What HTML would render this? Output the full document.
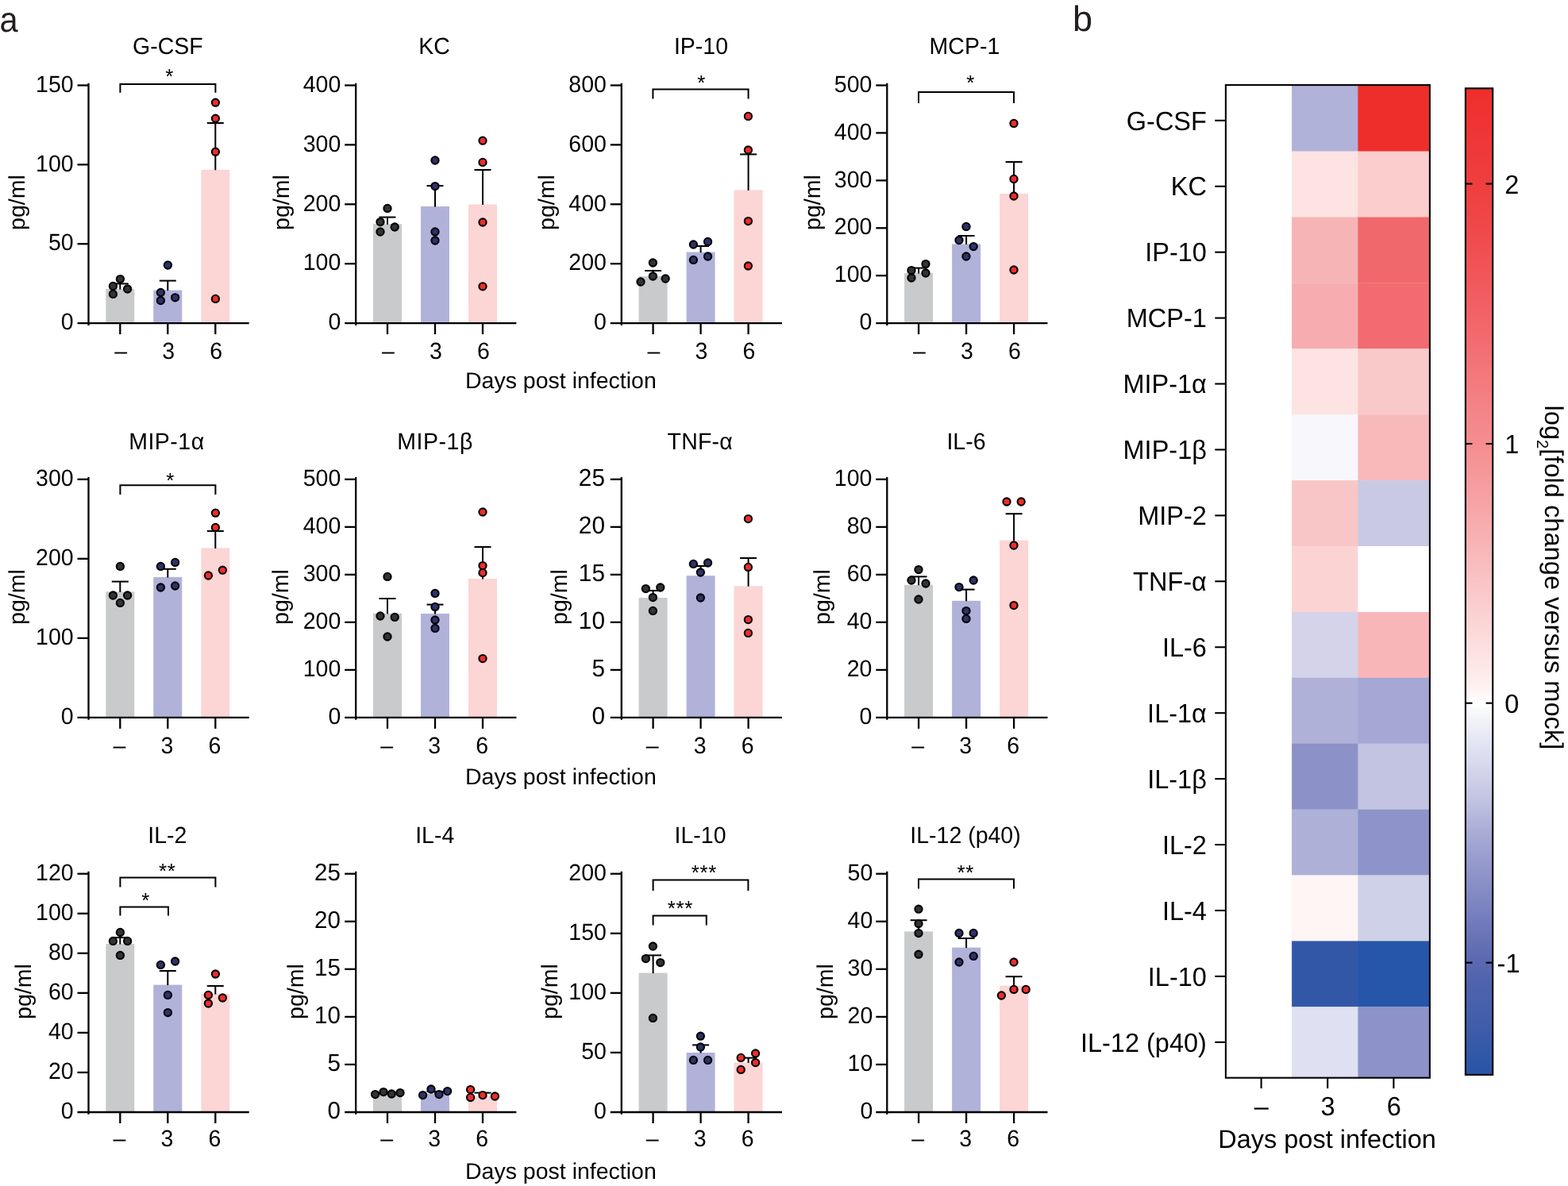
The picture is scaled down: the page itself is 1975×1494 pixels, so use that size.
<!DOCTYPE html>
<html lang="en">
<head>
<meta charset="utf-8">
<title>Cytokine levels after infection</title>
<style>
html,body{margin:0;padding:0;background:#fff;}
body{width:1975px;height:1494px;overflow:hidden;}
svg{display:block;font-family:"Liberation Sans", Arial, Helvetica, sans-serif;}
svg text{font-family:"Liberation Sans", Arial, Helvetica, sans-serif;text-rendering:geometricPrecision;}
</style>
</head>
<body>
<svg width="1975" height="1494" viewBox="0 0 1975 1494">
<rect x="0" y="0" width="1975" height="1494" fill="#fff"/>
<g>
<rect x="133.3" y="364" width="36" height="43.1" fill="#C9CACC"/>
<rect x="193.3" y="365.6" width="36" height="41.5" fill="#B1B2DA"/>
<rect x="253.3" y="213.8" width="36" height="193.3" fill="#FCD5D5"/>
<line x1="111.5" y1="104.65" x2="111.5" y2="409.95" stroke="#000" stroke-width="2.3"/>
<line x1="97.5" y1="407.1" x2="313.7" y2="407.1" stroke="#000" stroke-width="2.3"/>
<text transform="translate(92.6 415) scale(1 1.03)" font-size="28.5" text-anchor="end" fill="#000">0</text>
<line x1="97.5" y1="307.23" x2="111.5" y2="307.23" stroke="#000" stroke-width="2.3"/>
<text transform="translate(92.6 315) scale(1 1.03)" font-size="28.5" text-anchor="end" fill="#000">50</text>
<line x1="97.5" y1="207.37" x2="111.5" y2="207.37" stroke="#000" stroke-width="2.3"/>
<text transform="translate(92.6 216) scale(1 1.03)" font-size="28.5" text-anchor="end" fill="#000">100</text>
<line x1="97.5" y1="107.5" x2="111.5" y2="107.5" stroke="#000" stroke-width="2.3"/>
<text transform="translate(92.6 116) scale(1 1.03)" font-size="28.5" text-anchor="end" fill="#000">150</text>
<line x1="151.3" y1="407.1" x2="151.3" y2="421.1" stroke="#000" stroke-width="2.3"/>
<text transform="translate(152.2 452) scale(1 1.03)" font-size="28.5" text-anchor="middle" fill="#000">–</text>
<line x1="211.3" y1="407.1" x2="211.3" y2="421.1" stroke="#000" stroke-width="2.3"/>
<text transform="translate(212.2 452) scale(1 1.03)" font-size="28.5" text-anchor="middle" fill="#000">3</text>
<line x1="271.3" y1="407.1" x2="271.3" y2="421.1" stroke="#000" stroke-width="2.3"/>
<text transform="translate(272.2 452) scale(1 1.03)" font-size="28.5" text-anchor="middle" fill="#000">6</text>
<line x1="151.3" y1="357.4" x2="151.3" y2="364.5" stroke="#000" stroke-width="2"/>
<line x1="140.8" y1="357.4" x2="161.8" y2="357.4" stroke="#000" stroke-width="2"/>
<line x1="211.3" y1="353.6" x2="211.3" y2="366.1" stroke="#000" stroke-width="2"/>
<line x1="200.8" y1="353.6" x2="221.8" y2="353.6" stroke="#000" stroke-width="2"/>
<line x1="271.3" y1="155" x2="271.3" y2="214.3" stroke="#000" stroke-width="2"/>
<line x1="260.8" y1="155" x2="281.8" y2="155" stroke="#000" stroke-width="2"/>
<circle cx="151.4" cy="351.6" r="4.6" fill="#333333" stroke="#000" stroke-width="2.1"/>
<circle cx="142.4" cy="360.4" r="4.6" fill="#333333" stroke="#000" stroke-width="2.1"/>
<circle cx="160.6" cy="364" r="4.6" fill="#333333" stroke="#000" stroke-width="2.1"/>
<circle cx="142.4" cy="370.4" r="4.6" fill="#333333" stroke="#000" stroke-width="2.1"/>
<circle cx="211.4" cy="334" r="4.6" fill="#2F3169" stroke="#000" stroke-width="2.1"/>
<circle cx="202.4" cy="368.4" r="4.6" fill="#2F3169" stroke="#000" stroke-width="2.1"/>
<circle cx="220.6" cy="374.8" r="4.6" fill="#2F3169" stroke="#000" stroke-width="2.1"/>
<circle cx="202.4" cy="378.6" r="4.6" fill="#2F3169" stroke="#000" stroke-width="2.1"/>
<circle cx="271.4" cy="129.2" r="4.6" fill="#EE2D2A" stroke="#000" stroke-width="2.1"/>
<circle cx="271.4" cy="149.2" r="4.6" fill="#EE2D2A" stroke="#000" stroke-width="2.1"/>
<circle cx="271.4" cy="191.2" r="4.6" fill="#EE2D2A" stroke="#000" stroke-width="2.1"/>
<circle cx="271.4" cy="376.4" r="4.6" fill="#EE2D2A" stroke="#000" stroke-width="2.1"/>
<path d="M151.4 116.7V105.9H271.4V116.7" fill="none" stroke="#000" stroke-width="2"/>
<text transform="translate(213.4 105)" font-size="26" text-anchor="middle" fill="#000">*</text>
<text transform="translate(211.4 68) scale(1 1.03)" font-size="28.5" text-anchor="middle" fill="#000">G-CSF</text>
<text transform="translate(31.4 255.1) rotate(-90)" font-size="28.5" text-anchor="middle" fill="#000">pg/ml</text>
</g>
<g>
<rect x="470" y="282.2" width="36" height="124.9" fill="#C9CACC"/>
<rect x="530" y="260" width="36" height="147.1" fill="#B1B2DA"/>
<rect x="590" y="257.6" width="36" height="149.5" fill="#FCD5D5"/>
<line x1="448.2" y1="104.65" x2="448.2" y2="409.95" stroke="#000" stroke-width="2.3"/>
<line x1="434.2" y1="407.1" x2="650.4" y2="407.1" stroke="#000" stroke-width="2.3"/>
<text transform="translate(429.3 415) scale(1 1.03)" font-size="28.5" text-anchor="end" fill="#000">0</text>
<line x1="434.2" y1="332.2" x2="448.2" y2="332.2" stroke="#000" stroke-width="2.3"/>
<text transform="translate(429.3 340) scale(1 1.03)" font-size="28.5" text-anchor="end" fill="#000">100</text>
<line x1="434.2" y1="257.3" x2="448.2" y2="257.3" stroke="#000" stroke-width="2.3"/>
<text transform="translate(429.3 266) scale(1 1.03)" font-size="28.5" text-anchor="end" fill="#000">200</text>
<line x1="434.2" y1="182.4" x2="448.2" y2="182.4" stroke="#000" stroke-width="2.3"/>
<text transform="translate(429.3 191) scale(1 1.03)" font-size="28.5" text-anchor="end" fill="#000">300</text>
<line x1="434.2" y1="107.5" x2="448.2" y2="107.5" stroke="#000" stroke-width="2.3"/>
<text transform="translate(429.3 116) scale(1 1.03)" font-size="28.5" text-anchor="end" fill="#000">400</text>
<line x1="488" y1="407.1" x2="488" y2="421.1" stroke="#000" stroke-width="2.3"/>
<text transform="translate(488.9 452) scale(1 1.03)" font-size="28.5" text-anchor="middle" fill="#000">–</text>
<line x1="548" y1="407.1" x2="548" y2="421.1" stroke="#000" stroke-width="2.3"/>
<text transform="translate(548.9 452) scale(1 1.03)" font-size="28.5" text-anchor="middle" fill="#000">3</text>
<line x1="608" y1="407.1" x2="608" y2="421.1" stroke="#000" stroke-width="2.3"/>
<text transform="translate(608.9 452) scale(1 1.03)" font-size="28.5" text-anchor="middle" fill="#000">6</text>
<line x1="488" y1="273.6" x2="488" y2="282.7" stroke="#000" stroke-width="2"/>
<line x1="477.5" y1="273.6" x2="498.5" y2="273.6" stroke="#000" stroke-width="2"/>
<line x1="548" y1="234" x2="548" y2="260.5" stroke="#000" stroke-width="2"/>
<line x1="537.5" y1="234" x2="558.5" y2="234" stroke="#000" stroke-width="2"/>
<line x1="608" y1="214" x2="608" y2="258.1" stroke="#000" stroke-width="2"/>
<line x1="597.5" y1="214" x2="618.5" y2="214" stroke="#000" stroke-width="2"/>
<circle cx="488" cy="262.4" r="4.6" fill="#333333" stroke="#000" stroke-width="2.1"/>
<circle cx="479" cy="279.6" r="4.6" fill="#333333" stroke="#000" stroke-width="2.1"/>
<circle cx="497.2" cy="286" r="4.6" fill="#333333" stroke="#000" stroke-width="2.1"/>
<circle cx="479" cy="292" r="4.6" fill="#333333" stroke="#000" stroke-width="2.1"/>
<circle cx="548" cy="202" r="4.6" fill="#2F3169" stroke="#000" stroke-width="2.1"/>
<circle cx="548" cy="234.6" r="4.6" fill="#2F3169" stroke="#000" stroke-width="2.1"/>
<circle cx="548" cy="292" r="4.6" fill="#2F3169" stroke="#000" stroke-width="2.1"/>
<circle cx="548" cy="303" r="4.6" fill="#2F3169" stroke="#000" stroke-width="2.1"/>
<circle cx="608" cy="177.2" r="4.6" fill="#EE2D2A" stroke="#000" stroke-width="2.1"/>
<circle cx="608" cy="204.4" r="4.6" fill="#EE2D2A" stroke="#000" stroke-width="2.1"/>
<circle cx="608" cy="280" r="4.6" fill="#EE2D2A" stroke="#000" stroke-width="2.1"/>
<circle cx="608" cy="360.8" r="4.6" fill="#EE2D2A" stroke="#000" stroke-width="2.1"/>
<text transform="translate(547 68) scale(1 1.03)" font-size="28.5" text-anchor="middle" fill="#000">KC</text>
<text transform="translate(364 255.1) rotate(-90)" font-size="28.5" text-anchor="middle" fill="#000">pg/ml</text>
</g>
<g>
<rect x="804.6" y="348" width="36" height="59.1" fill="#C9CACC"/>
<rect x="864.6" y="317.6" width="36" height="89.5" fill="#B1B2DA"/>
<rect x="924.6" y="239.4" width="36" height="167.7" fill="#FCD5D5"/>
<line x1="782.8" y1="104.65" x2="782.8" y2="409.95" stroke="#000" stroke-width="2.3"/>
<line x1="768.8" y1="407.1" x2="985" y2="407.1" stroke="#000" stroke-width="2.3"/>
<text transform="translate(763.9 415) scale(1 1.03)" font-size="28.5" text-anchor="end" fill="#000">0</text>
<line x1="768.8" y1="332.2" x2="782.8" y2="332.2" stroke="#000" stroke-width="2.3"/>
<text transform="translate(763.9 340) scale(1 1.03)" font-size="28.5" text-anchor="end" fill="#000">200</text>
<line x1="768.8" y1="257.3" x2="782.8" y2="257.3" stroke="#000" stroke-width="2.3"/>
<text transform="translate(763.9 266) scale(1 1.03)" font-size="28.5" text-anchor="end" fill="#000">400</text>
<line x1="768.8" y1="182.4" x2="782.8" y2="182.4" stroke="#000" stroke-width="2.3"/>
<text transform="translate(763.9 191) scale(1 1.03)" font-size="28.5" text-anchor="end" fill="#000">600</text>
<line x1="768.8" y1="107.5" x2="782.8" y2="107.5" stroke="#000" stroke-width="2.3"/>
<text transform="translate(763.9 116) scale(1 1.03)" font-size="28.5" text-anchor="end" fill="#000">800</text>
<line x1="822.6" y1="407.1" x2="822.6" y2="421.1" stroke="#000" stroke-width="2.3"/>
<text transform="translate(823.5 452) scale(1 1.03)" font-size="28.5" text-anchor="middle" fill="#000">–</text>
<line x1="882.6" y1="407.1" x2="882.6" y2="421.1" stroke="#000" stroke-width="2.3"/>
<text transform="translate(883.5 452) scale(1 1.03)" font-size="28.5" text-anchor="middle" fill="#000">3</text>
<line x1="942.6" y1="407.1" x2="942.6" y2="421.1" stroke="#000" stroke-width="2.3"/>
<text transform="translate(943.5 452) scale(1 1.03)" font-size="28.5" text-anchor="middle" fill="#000">6</text>
<line x1="822.6" y1="341" x2="822.6" y2="348.5" stroke="#000" stroke-width="2"/>
<line x1="812.1" y1="341" x2="833.1" y2="341" stroke="#000" stroke-width="2"/>
<line x1="882.6" y1="310" x2="882.6" y2="318.1" stroke="#000" stroke-width="2"/>
<line x1="872.1" y1="310" x2="893.1" y2="310" stroke="#000" stroke-width="2"/>
<line x1="942.6" y1="194.4" x2="942.6" y2="239.9" stroke="#000" stroke-width="2"/>
<line x1="932.1" y1="194.4" x2="953.1" y2="194.4" stroke="#000" stroke-width="2"/>
<circle cx="822.4" cy="331" r="4.6" fill="#333333" stroke="#000" stroke-width="2.1"/>
<circle cx="822.4" cy="348" r="4.6" fill="#333333" stroke="#000" stroke-width="2.1"/>
<circle cx="807" cy="355" r="4.6" fill="#333333" stroke="#000" stroke-width="2.1"/>
<circle cx="838.2" cy="351" r="4.6" fill="#333333" stroke="#000" stroke-width="2.1"/>
<circle cx="873.4" cy="308" r="4.6" fill="#2F3169" stroke="#000" stroke-width="2.1"/>
<circle cx="891.6" cy="304.4" r="4.6" fill="#2F3169" stroke="#000" stroke-width="2.1"/>
<circle cx="891.6" cy="323" r="4.6" fill="#2F3169" stroke="#000" stroke-width="2.1"/>
<circle cx="873.4" cy="327.4" r="4.6" fill="#2F3169" stroke="#000" stroke-width="2.1"/>
<circle cx="942.4" cy="146.4" r="4.6" fill="#EE2D2A" stroke="#000" stroke-width="2.1"/>
<circle cx="942.4" cy="189" r="4.6" fill="#EE2D2A" stroke="#000" stroke-width="2.1"/>
<circle cx="942.4" cy="278.6" r="4.6" fill="#EE2D2A" stroke="#000" stroke-width="2.1"/>
<circle cx="942.4" cy="335" r="4.6" fill="#EE2D2A" stroke="#000" stroke-width="2.1"/>
<path d="M822.4 124.4V112.6H942.6V124.4" fill="none" stroke="#000" stroke-width="2"/>
<text transform="translate(883.4 113)" font-size="26" text-anchor="middle" fill="#000">*</text>
<text transform="translate(883 68) scale(1 1.03)" font-size="28.5" text-anchor="middle" fill="#000">IP-10</text>
<text transform="translate(698.4 255.1) rotate(-90)" font-size="28.5" text-anchor="middle" fill="#000">pg/ml</text>
</g>
<g>
<rect x="1139.1" y="344" width="36" height="63.1" fill="#C9CACC"/>
<rect x="1199.1" y="307.4" width="36" height="99.7" fill="#B1B2DA"/>
<rect x="1259.1" y="244" width="36" height="163.1" fill="#FCD5D5"/>
<line x1="1117.3" y1="104.65" x2="1117.3" y2="409.95" stroke="#000" stroke-width="2.3"/>
<line x1="1103.3" y1="407.1" x2="1319.5" y2="407.1" stroke="#000" stroke-width="2.3"/>
<text transform="translate(1098.4 415) scale(1 1.03)" font-size="28.5" text-anchor="end" fill="#000">0</text>
<line x1="1103.3" y1="347.18" x2="1117.3" y2="347.18" stroke="#000" stroke-width="2.3"/>
<text transform="translate(1098.4 355) scale(1 1.03)" font-size="28.5" text-anchor="end" fill="#000">100</text>
<line x1="1103.3" y1="287.26" x2="1117.3" y2="287.26" stroke="#000" stroke-width="2.3"/>
<text transform="translate(1098.4 295) scale(1 1.03)" font-size="28.5" text-anchor="end" fill="#000">200</text>
<line x1="1103.3" y1="227.34" x2="1117.3" y2="227.34" stroke="#000" stroke-width="2.3"/>
<text transform="translate(1098.4 236) scale(1 1.03)" font-size="28.5" text-anchor="end" fill="#000">300</text>
<line x1="1103.3" y1="167.42" x2="1117.3" y2="167.42" stroke="#000" stroke-width="2.3"/>
<text transform="translate(1098.4 176) scale(1 1.03)" font-size="28.5" text-anchor="end" fill="#000">400</text>
<line x1="1103.3" y1="107.5" x2="1117.3" y2="107.5" stroke="#000" stroke-width="2.3"/>
<text transform="translate(1098.4 116) scale(1 1.03)" font-size="28.5" text-anchor="end" fill="#000">500</text>
<line x1="1157.1" y1="407.1" x2="1157.1" y2="421.1" stroke="#000" stroke-width="2.3"/>
<text transform="translate(1158 452) scale(1 1.03)" font-size="28.5" text-anchor="middle" fill="#000">–</text>
<line x1="1217.1" y1="407.1" x2="1217.1" y2="421.1" stroke="#000" stroke-width="2.3"/>
<text transform="translate(1218 452) scale(1 1.03)" font-size="28.5" text-anchor="middle" fill="#000">3</text>
<line x1="1277.1" y1="407.1" x2="1277.1" y2="421.1" stroke="#000" stroke-width="2.3"/>
<text transform="translate(1278 452) scale(1 1.03)" font-size="28.5" text-anchor="middle" fill="#000">6</text>
<line x1="1157.1" y1="337.6" x2="1157.1" y2="344.5" stroke="#000" stroke-width="2"/>
<line x1="1146.6" y1="337.6" x2="1167.6" y2="337.6" stroke="#000" stroke-width="2"/>
<line x1="1217.1" y1="297" x2="1217.1" y2="307.9" stroke="#000" stroke-width="2"/>
<line x1="1206.6" y1="297" x2="1227.6" y2="297" stroke="#000" stroke-width="2"/>
<line x1="1277.1" y1="204" x2="1277.1" y2="244.5" stroke="#000" stroke-width="2"/>
<line x1="1266.6" y1="204" x2="1287.6" y2="204" stroke="#000" stroke-width="2"/>
<circle cx="1166" cy="332.6" r="4.6" fill="#333333" stroke="#000" stroke-width="2.1"/>
<circle cx="1148" cy="340.6" r="4.6" fill="#333333" stroke="#000" stroke-width="2.1"/>
<circle cx="1166" cy="344" r="4.6" fill="#333333" stroke="#000" stroke-width="2.1"/>
<circle cx="1148" cy="350" r="4.6" fill="#333333" stroke="#000" stroke-width="2.1"/>
<circle cx="1217" cy="285.4" r="4.6" fill="#2F3169" stroke="#000" stroke-width="2.1"/>
<circle cx="1208" cy="302.6" r="4.6" fill="#2F3169" stroke="#000" stroke-width="2.1"/>
<circle cx="1226.2" cy="310.6" r="4.6" fill="#2F3169" stroke="#000" stroke-width="2.1"/>
<circle cx="1217" cy="323" r="4.6" fill="#2F3169" stroke="#000" stroke-width="2.1"/>
<circle cx="1277" cy="155.4" r="4.6" fill="#EE2D2A" stroke="#000" stroke-width="2.1"/>
<circle cx="1277" cy="225.4" r="4.6" fill="#EE2D2A" stroke="#000" stroke-width="2.1"/>
<circle cx="1277" cy="247" r="4.6" fill="#EE2D2A" stroke="#000" stroke-width="2.1"/>
<circle cx="1277" cy="340" r="4.6" fill="#EE2D2A" stroke="#000" stroke-width="2.1"/>
<path d="M1157 130V116H1277V130" fill="none" stroke="#000" stroke-width="2"/>
<text transform="translate(1222.4 112.6)" font-size="26" text-anchor="middle" fill="#000">*</text>
<text transform="translate(1214.9 68) scale(1 1.03)" font-size="28.5" text-anchor="middle" fill="#000">MCP-1</text>
<text transform="translate(1033.4 255.1) rotate(-90)" font-size="28.5" text-anchor="middle" fill="#000">pg/ml</text>
</g>
<g>
<rect x="133.3" y="745.4" width="36" height="158.5" fill="#C9CACC"/>
<rect x="193.3" y="727" width="36" height="176.9" fill="#B1B2DA"/>
<rect x="253.3" y="690.4" width="36" height="213.5" fill="#FCD5D5"/>
<line x1="111.5" y1="600.95" x2="111.5" y2="906.75" stroke="#000" stroke-width="2.3"/>
<line x1="97.5" y1="903.9" x2="313.7" y2="903.9" stroke="#000" stroke-width="2.3"/>
<text transform="translate(92.6 912) scale(1 1.03)" font-size="28.5" text-anchor="end" fill="#000">0</text>
<line x1="97.5" y1="803.87" x2="111.5" y2="803.87" stroke="#000" stroke-width="2.3"/>
<text transform="translate(92.6 812) scale(1 1.03)" font-size="28.5" text-anchor="end" fill="#000">100</text>
<line x1="97.5" y1="703.83" x2="111.5" y2="703.83" stroke="#000" stroke-width="2.3"/>
<text transform="translate(92.6 712) scale(1 1.03)" font-size="28.5" text-anchor="end" fill="#000">200</text>
<line x1="97.5" y1="603.8" x2="111.5" y2="603.8" stroke="#000" stroke-width="2.3"/>
<text transform="translate(92.6 612) scale(1 1.03)" font-size="28.5" text-anchor="end" fill="#000">300</text>
<line x1="151.3" y1="903.9" x2="151.3" y2="917.9" stroke="#000" stroke-width="2.3"/>
<text transform="translate(150.4 949) scale(1 1.03)" font-size="28.5" text-anchor="middle" fill="#000">–</text>
<line x1="211.3" y1="903.9" x2="211.3" y2="917.9" stroke="#000" stroke-width="2.3"/>
<text transform="translate(210.4 949) scale(1 1.03)" font-size="28.5" text-anchor="middle" fill="#000">3</text>
<line x1="271.3" y1="903.9" x2="271.3" y2="917.9" stroke="#000" stroke-width="2.3"/>
<text transform="translate(270.4 949) scale(1 1.03)" font-size="28.5" text-anchor="middle" fill="#000">6</text>
<line x1="151.3" y1="732.6" x2="151.3" y2="745.9" stroke="#000" stroke-width="2"/>
<line x1="140.8" y1="732.6" x2="161.8" y2="732.6" stroke="#000" stroke-width="2"/>
<line x1="211.3" y1="716.8" x2="211.3" y2="727.5" stroke="#000" stroke-width="2"/>
<line x1="200.8" y1="716.8" x2="221.8" y2="716.8" stroke="#000" stroke-width="2"/>
<line x1="271.3" y1="669" x2="271.3" y2="690.9" stroke="#000" stroke-width="2"/>
<line x1="260.8" y1="669" x2="281.8" y2="669" stroke="#000" stroke-width="2"/>
<circle cx="151.4" cy="713.4" r="4.6" fill="#333333" stroke="#000" stroke-width="2.1"/>
<circle cx="142.4" cy="750" r="4.6" fill="#333333" stroke="#000" stroke-width="2.1"/>
<circle cx="160.6" cy="750" r="4.6" fill="#333333" stroke="#000" stroke-width="2.1"/>
<circle cx="151.4" cy="759.4" r="4.6" fill="#333333" stroke="#000" stroke-width="2.1"/>
<circle cx="202.4" cy="713.4" r="4.6" fill="#2F3169" stroke="#000" stroke-width="2.1"/>
<circle cx="220.6" cy="708.4" r="4.6" fill="#2F3169" stroke="#000" stroke-width="2.1"/>
<circle cx="202.4" cy="740" r="4.6" fill="#2F3169" stroke="#000" stroke-width="2.1"/>
<circle cx="220.6" cy="738" r="4.6" fill="#2F3169" stroke="#000" stroke-width="2.1"/>
<circle cx="271.4" cy="646.2" r="4.6" fill="#EE2D2A" stroke="#000" stroke-width="2.1"/>
<circle cx="271.4" cy="664.4" r="4.6" fill="#EE2D2A" stroke="#000" stroke-width="2.1"/>
<circle cx="262.4" cy="725" r="4.6" fill="#EE2D2A" stroke="#000" stroke-width="2.1"/>
<circle cx="280.4" cy="718.2" r="4.6" fill="#EE2D2A" stroke="#000" stroke-width="2.1"/>
<path d="M151.4 623V611.2H271.4V623" fill="none" stroke="#000" stroke-width="2"/>
<text transform="translate(214.4 614)" font-size="26" text-anchor="middle" fill="#000">*</text>
<text transform="translate(209.9 565.6) scale(1 1.03)" font-size="28.5" text-anchor="middle" fill="#000" letter-spacing="0.5">MIP-1α</text>
<text transform="translate(31.4 752.05) rotate(-90)" font-size="28.5" text-anchor="middle" fill="#000">pg/ml</text>
</g>
<g>
<rect x="470" y="772.8" width="36" height="131.1" fill="#C9CACC"/>
<rect x="530" y="773" width="36" height="130.9" fill="#B1B2DA"/>
<rect x="590" y="729" width="36" height="174.9" fill="#FCD5D5"/>
<line x1="448.2" y1="600.95" x2="448.2" y2="906.75" stroke="#000" stroke-width="2.3"/>
<line x1="434.2" y1="903.9" x2="650.4" y2="903.9" stroke="#000" stroke-width="2.3"/>
<text transform="translate(429.3 912) scale(1 1.03)" font-size="28.5" text-anchor="end" fill="#000">0</text>
<line x1="434.2" y1="843.88" x2="448.2" y2="843.88" stroke="#000" stroke-width="2.3"/>
<text transform="translate(429.3 852) scale(1 1.03)" font-size="28.5" text-anchor="end" fill="#000">100</text>
<line x1="434.2" y1="783.86" x2="448.2" y2="783.86" stroke="#000" stroke-width="2.3"/>
<text transform="translate(429.3 792) scale(1 1.03)" font-size="28.5" text-anchor="end" fill="#000">200</text>
<line x1="434.2" y1="723.84" x2="448.2" y2="723.84" stroke="#000" stroke-width="2.3"/>
<text transform="translate(429.3 732) scale(1 1.03)" font-size="28.5" text-anchor="end" fill="#000">300</text>
<line x1="434.2" y1="663.82" x2="448.2" y2="663.82" stroke="#000" stroke-width="2.3"/>
<text transform="translate(429.3 672) scale(1 1.03)" font-size="28.5" text-anchor="end" fill="#000">400</text>
<line x1="434.2" y1="603.8" x2="448.2" y2="603.8" stroke="#000" stroke-width="2.3"/>
<text transform="translate(429.3 612) scale(1 1.03)" font-size="28.5" text-anchor="end" fill="#000">500</text>
<line x1="488" y1="903.9" x2="488" y2="917.9" stroke="#000" stroke-width="2.3"/>
<text transform="translate(487.1 949) scale(1 1.03)" font-size="28.5" text-anchor="middle" fill="#000">–</text>
<line x1="548" y1="903.9" x2="548" y2="917.9" stroke="#000" stroke-width="2.3"/>
<text transform="translate(547.1 949) scale(1 1.03)" font-size="28.5" text-anchor="middle" fill="#000">3</text>
<line x1="608" y1="903.9" x2="608" y2="917.9" stroke="#000" stroke-width="2.3"/>
<text transform="translate(607.1 949) scale(1 1.03)" font-size="28.5" text-anchor="middle" fill="#000">6</text>
<line x1="488" y1="754" x2="488" y2="773.3" stroke="#000" stroke-width="2"/>
<line x1="477.5" y1="754" x2="498.5" y2="754" stroke="#000" stroke-width="2"/>
<line x1="548" y1="761.6" x2="548" y2="773.5" stroke="#000" stroke-width="2"/>
<line x1="537.5" y1="761.6" x2="558.5" y2="761.6" stroke="#000" stroke-width="2"/>
<line x1="608" y1="689" x2="608" y2="729.5" stroke="#000" stroke-width="2"/>
<line x1="597.5" y1="689" x2="618.5" y2="689" stroke="#000" stroke-width="2"/>
<circle cx="488" cy="726.4" r="4.6" fill="#333333" stroke="#000" stroke-width="2.1"/>
<circle cx="479" cy="776" r="4.6" fill="#333333" stroke="#000" stroke-width="2.1"/>
<circle cx="497.2" cy="777.4" r="4.6" fill="#333333" stroke="#000" stroke-width="2.1"/>
<circle cx="488" cy="802" r="4.6" fill="#333333" stroke="#000" stroke-width="2.1"/>
<circle cx="548" cy="747.4" r="4.6" fill="#2F3169" stroke="#000" stroke-width="2.1"/>
<circle cx="548" cy="764.4" r="4.6" fill="#2F3169" stroke="#000" stroke-width="2.1"/>
<circle cx="548" cy="781" r="4.6" fill="#2F3169" stroke="#000" stroke-width="2.1"/>
<circle cx="548" cy="791.4" r="4.6" fill="#2F3169" stroke="#000" stroke-width="2.1"/>
<circle cx="608" cy="645" r="4.6" fill="#EE2D2A" stroke="#000" stroke-width="2.1"/>
<circle cx="608" cy="712.6" r="4.6" fill="#EE2D2A" stroke="#000" stroke-width="2.1"/>
<circle cx="608" cy="721.6" r="4.6" fill="#EE2D2A" stroke="#000" stroke-width="2.1"/>
<circle cx="608" cy="829.6" r="4.6" fill="#EE2D2A" stroke="#000" stroke-width="2.1"/>
<text transform="translate(548.1 565.6) scale(1 1.03)" font-size="28.5" text-anchor="middle" fill="#000" letter-spacing="0.55">MIP-1β</text>
<text transform="translate(363.4 752.05) rotate(-90)" font-size="28.5" text-anchor="middle" fill="#000">pg/ml</text>
</g>
<g>
<rect x="804.6" y="753" width="36" height="150.9" fill="#C9CACC"/>
<rect x="864.6" y="725.2" width="36" height="178.7" fill="#B1B2DA"/>
<rect x="924.6" y="738.2" width="36" height="165.7" fill="#FCD5D5"/>
<line x1="782.8" y1="600.95" x2="782.8" y2="906.75" stroke="#000" stroke-width="2.3"/>
<line x1="768.8" y1="903.9" x2="985" y2="903.9" stroke="#000" stroke-width="2.3"/>
<text transform="translate(762 912) scale(1 1.03)" font-size="29.8" text-anchor="end" fill="#000">0</text>
<line x1="768.8" y1="843.88" x2="782.8" y2="843.88" stroke="#000" stroke-width="2.3"/>
<text transform="translate(762 852) scale(1 1.03)" font-size="29.8" text-anchor="end" fill="#000">5</text>
<line x1="768.8" y1="783.86" x2="782.8" y2="783.86" stroke="#000" stroke-width="2.3"/>
<text transform="translate(762 792) scale(1 1.03)" font-size="29.8" text-anchor="end" fill="#000">10</text>
<line x1="768.8" y1="723.84" x2="782.8" y2="723.84" stroke="#000" stroke-width="2.3"/>
<text transform="translate(762 732) scale(1 1.03)" font-size="29.8" text-anchor="end" fill="#000">15</text>
<line x1="768.8" y1="663.82" x2="782.8" y2="663.82" stroke="#000" stroke-width="2.3"/>
<text transform="translate(762 672) scale(1 1.03)" font-size="29.8" text-anchor="end" fill="#000">20</text>
<line x1="768.8" y1="603.8" x2="782.8" y2="603.8" stroke="#000" stroke-width="2.3"/>
<text transform="translate(762 612) scale(1 1.03)" font-size="29.8" text-anchor="end" fill="#000">25</text>
<line x1="822.6" y1="903.9" x2="822.6" y2="917.9" stroke="#000" stroke-width="2.3"/>
<text transform="translate(821.7 949) scale(1 1.03)" font-size="28.5" text-anchor="middle" fill="#000">–</text>
<line x1="882.6" y1="903.9" x2="882.6" y2="917.9" stroke="#000" stroke-width="2.3"/>
<text transform="translate(881.7 949) scale(1 1.03)" font-size="28.5" text-anchor="middle" fill="#000">3</text>
<line x1="942.6" y1="903.9" x2="942.6" y2="917.9" stroke="#000" stroke-width="2.3"/>
<text transform="translate(941.7 949) scale(1 1.03)" font-size="28.5" text-anchor="middle" fill="#000">6</text>
<line x1="822.6" y1="744" x2="822.6" y2="753.5" stroke="#000" stroke-width="2"/>
<line x1="812.1" y1="744" x2="833.1" y2="744" stroke="#000" stroke-width="2"/>
<line x1="882.6" y1="713" x2="882.6" y2="725.7" stroke="#000" stroke-width="2"/>
<line x1="872.1" y1="713" x2="893.1" y2="713" stroke="#000" stroke-width="2"/>
<line x1="942.6" y1="703" x2="942.6" y2="738.7" stroke="#000" stroke-width="2"/>
<line x1="932.1" y1="703" x2="953.1" y2="703" stroke="#000" stroke-width="2"/>
<circle cx="813.4" cy="741.6" r="4.6" fill="#333333" stroke="#000" stroke-width="2.1"/>
<circle cx="831.8" cy="740" r="4.6" fill="#333333" stroke="#000" stroke-width="2.1"/>
<circle cx="822.4" cy="752.6" r="4.6" fill="#333333" stroke="#000" stroke-width="2.1"/>
<circle cx="822.4" cy="769.4" r="4.6" fill="#333333" stroke="#000" stroke-width="2.1"/>
<circle cx="873.4" cy="710.4" r="4.6" fill="#2F3169" stroke="#000" stroke-width="2.1"/>
<circle cx="891.6" cy="709" r="4.6" fill="#2F3169" stroke="#000" stroke-width="2.1"/>
<circle cx="882.4" cy="721" r="4.6" fill="#2F3169" stroke="#000" stroke-width="2.1"/>
<circle cx="882.4" cy="753" r="4.6" fill="#2F3169" stroke="#000" stroke-width="2.1"/>
<circle cx="942.4" cy="653.6" r="4.6" fill="#EE2D2A" stroke="#000" stroke-width="2.1"/>
<circle cx="942.4" cy="714.4" r="4.6" fill="#EE2D2A" stroke="#000" stroke-width="2.1"/>
<circle cx="942.4" cy="780.6" r="4.6" fill="#EE2D2A" stroke="#000" stroke-width="2.1"/>
<circle cx="942.4" cy="797.4" r="4.6" fill="#EE2D2A" stroke="#000" stroke-width="2.1"/>
<text transform="translate(881.8 565.6) scale(1 1.03)" font-size="28.5" text-anchor="middle" fill="#000" letter-spacing="0.2">TNF-α</text>
<text transform="translate(714.4 752.05) rotate(-90)" font-size="28.5" text-anchor="middle" fill="#000">pg/ml</text>
</g>
<g>
<rect x="1139.1" y="736.8" width="36" height="167.1" fill="#C9CACC"/>
<rect x="1199.1" y="756.8" width="36" height="147.1" fill="#B1B2DA"/>
<rect x="1259.1" y="680.6" width="36" height="223.3" fill="#FCD5D5"/>
<line x1="1117.3" y1="600.95" x2="1117.3" y2="906.75" stroke="#000" stroke-width="2.3"/>
<line x1="1103.3" y1="903.9" x2="1319.5" y2="903.9" stroke="#000" stroke-width="2.3"/>
<text transform="translate(1098.4 912) scale(1 1.03)" font-size="28.5" text-anchor="end" fill="#000">0</text>
<line x1="1103.3" y1="843.88" x2="1117.3" y2="843.88" stroke="#000" stroke-width="2.3"/>
<text transform="translate(1098.4 852) scale(1 1.03)" font-size="28.5" text-anchor="end" fill="#000">20</text>
<line x1="1103.3" y1="783.86" x2="1117.3" y2="783.86" stroke="#000" stroke-width="2.3"/>
<text transform="translate(1098.4 792) scale(1 1.03)" font-size="28.5" text-anchor="end" fill="#000">40</text>
<line x1="1103.3" y1="723.84" x2="1117.3" y2="723.84" stroke="#000" stroke-width="2.3"/>
<text transform="translate(1098.4 732) scale(1 1.03)" font-size="28.5" text-anchor="end" fill="#000">60</text>
<line x1="1103.3" y1="663.82" x2="1117.3" y2="663.82" stroke="#000" stroke-width="2.3"/>
<text transform="translate(1098.4 672) scale(1 1.03)" font-size="28.5" text-anchor="end" fill="#000">80</text>
<line x1="1103.3" y1="603.8" x2="1117.3" y2="603.8" stroke="#000" stroke-width="2.3"/>
<text transform="translate(1098.4 612) scale(1 1.03)" font-size="28.5" text-anchor="end" fill="#000">100</text>
<line x1="1157.1" y1="903.9" x2="1157.1" y2="917.9" stroke="#000" stroke-width="2.3"/>
<text transform="translate(1156.2 949) scale(1 1.03)" font-size="28.5" text-anchor="middle" fill="#000">–</text>
<line x1="1217.1" y1="903.9" x2="1217.1" y2="917.9" stroke="#000" stroke-width="2.3"/>
<text transform="translate(1216.2 949) scale(1 1.03)" font-size="28.5" text-anchor="middle" fill="#000">3</text>
<line x1="1277.1" y1="903.9" x2="1277.1" y2="917.9" stroke="#000" stroke-width="2.3"/>
<text transform="translate(1276.2 949) scale(1 1.03)" font-size="28.5" text-anchor="middle" fill="#000">6</text>
<line x1="1157.1" y1="726.4" x2="1157.1" y2="737.3" stroke="#000" stroke-width="2"/>
<line x1="1146.6" y1="726.4" x2="1167.6" y2="726.4" stroke="#000" stroke-width="2"/>
<line x1="1217.1" y1="742.6" x2="1217.1" y2="757.3" stroke="#000" stroke-width="2"/>
<line x1="1206.6" y1="742.6" x2="1227.6" y2="742.6" stroke="#000" stroke-width="2"/>
<line x1="1277.1" y1="647.2" x2="1277.1" y2="681.1" stroke="#000" stroke-width="2"/>
<line x1="1266.6" y1="647.2" x2="1287.6" y2="647.2" stroke="#000" stroke-width="2"/>
<circle cx="1157" cy="717.6" r="4.6" fill="#333333" stroke="#000" stroke-width="2.1"/>
<circle cx="1148" cy="731" r="4.6" fill="#333333" stroke="#000" stroke-width="2.1"/>
<circle cx="1166" cy="735" r="4.6" fill="#333333" stroke="#000" stroke-width="2.1"/>
<circle cx="1157" cy="755" r="4.6" fill="#333333" stroke="#000" stroke-width="2.1"/>
<circle cx="1226.2" cy="731" r="4.6" fill="#2F3169" stroke="#000" stroke-width="2.1"/>
<circle cx="1208" cy="739.6" r="4.6" fill="#2F3169" stroke="#000" stroke-width="2.1"/>
<circle cx="1217" cy="769.6" r="4.6" fill="#2F3169" stroke="#000" stroke-width="2.1"/>
<circle cx="1217" cy="779.4" r="4.6" fill="#2F3169" stroke="#000" stroke-width="2.1"/>
<circle cx="1268" cy="632" r="4.6" fill="#EE2D2A" stroke="#000" stroke-width="2.1"/>
<circle cx="1286.2" cy="632" r="4.6" fill="#EE2D2A" stroke="#000" stroke-width="2.1"/>
<circle cx="1277" cy="687" r="4.6" fill="#EE2D2A" stroke="#000" stroke-width="2.1"/>
<circle cx="1277" cy="762.6" r="4.6" fill="#EE2D2A" stroke="#000" stroke-width="2.1"/>
<text transform="translate(1217 565.6) scale(1 1.03)" font-size="28.5" text-anchor="middle" fill="#000">IL-6</text>
<text transform="translate(1045.4 752.05) rotate(-90)" font-size="28.5" text-anchor="middle" fill="#000">pg/ml</text>
</g>
<g>
<rect x="133.3" y="1189" width="36" height="212" fill="#C9CACC"/>
<rect x="193.3" y="1240.6" width="36" height="160.4" fill="#B1B2DA"/>
<rect x="253.3" y="1252" width="36" height="149" fill="#FCD5D5"/>
<line x1="111.5" y1="1097.85" x2="111.5" y2="1403.85" stroke="#000" stroke-width="2.3"/>
<line x1="97.5" y1="1401" x2="313.7" y2="1401" stroke="#000" stroke-width="2.3"/>
<text transform="translate(92.6 1409) scale(1 1.03)" font-size="28.5" text-anchor="end" fill="#000">0</text>
<line x1="97.5" y1="1350.95" x2="111.5" y2="1350.95" stroke="#000" stroke-width="2.3"/>
<text transform="translate(92.6 1359) scale(1 1.03)" font-size="28.5" text-anchor="end" fill="#000">20</text>
<line x1="97.5" y1="1300.9" x2="111.5" y2="1300.9" stroke="#000" stroke-width="2.3"/>
<text transform="translate(92.6 1309) scale(1 1.03)" font-size="28.5" text-anchor="end" fill="#000">40</text>
<line x1="97.5" y1="1250.85" x2="111.5" y2="1250.85" stroke="#000" stroke-width="2.3"/>
<text transform="translate(92.6 1259) scale(1 1.03)" font-size="28.5" text-anchor="end" fill="#000">60</text>
<line x1="97.5" y1="1200.8" x2="111.5" y2="1200.8" stroke="#000" stroke-width="2.3"/>
<text transform="translate(92.6 1209) scale(1 1.03)" font-size="28.5" text-anchor="end" fill="#000">80</text>
<line x1="97.5" y1="1150.75" x2="111.5" y2="1150.75" stroke="#000" stroke-width="2.3"/>
<text transform="translate(92.6 1159) scale(1 1.03)" font-size="28.5" text-anchor="end" fill="#000">100</text>
<line x1="97.5" y1="1100.7" x2="111.5" y2="1100.7" stroke="#000" stroke-width="2.3"/>
<text transform="translate(92.6 1109) scale(1 1.03)" font-size="28.5" text-anchor="end" fill="#000">120</text>
<line x1="151.3" y1="1401" x2="151.3" y2="1415" stroke="#000" stroke-width="2.3"/>
<text transform="translate(150.4 1444) scale(1 1.03)" font-size="28.5" text-anchor="middle" fill="#000">–</text>
<line x1="211.3" y1="1401" x2="211.3" y2="1415" stroke="#000" stroke-width="2.3"/>
<text transform="translate(210.4 1444) scale(1 1.03)" font-size="28.5" text-anchor="middle" fill="#000">3</text>
<line x1="271.3" y1="1401" x2="271.3" y2="1415" stroke="#000" stroke-width="2.3"/>
<text transform="translate(270.4 1444) scale(1 1.03)" font-size="28.5" text-anchor="middle" fill="#000">6</text>
<line x1="151.3" y1="1181" x2="151.3" y2="1189.5" stroke="#000" stroke-width="2"/>
<line x1="140.8" y1="1181" x2="161.8" y2="1181" stroke="#000" stroke-width="2"/>
<line x1="211.3" y1="1223" x2="211.3" y2="1241.1" stroke="#000" stroke-width="2"/>
<line x1="200.8" y1="1223" x2="221.8" y2="1223" stroke="#000" stroke-width="2"/>
<line x1="271.3" y1="1242" x2="271.3" y2="1252.5" stroke="#000" stroke-width="2"/>
<line x1="260.8" y1="1242" x2="281.8" y2="1242" stroke="#000" stroke-width="2"/>
<circle cx="151.4" cy="1174.4" r="4.6" fill="#333333" stroke="#000" stroke-width="2.1"/>
<circle cx="142.4" cy="1185.4" r="4.6" fill="#333333" stroke="#000" stroke-width="2.1"/>
<circle cx="160.6" cy="1185.4" r="4.6" fill="#333333" stroke="#000" stroke-width="2.1"/>
<circle cx="151.4" cy="1203.4" r="4.6" fill="#333333" stroke="#000" stroke-width="2.1"/>
<circle cx="202.4" cy="1215.4" r="4.6" fill="#2F3169" stroke="#000" stroke-width="2.1"/>
<circle cx="220.6" cy="1211" r="4.6" fill="#2F3169" stroke="#000" stroke-width="2.1"/>
<circle cx="211.4" cy="1253.4" r="4.6" fill="#2F3169" stroke="#000" stroke-width="2.1"/>
<circle cx="211.4" cy="1275.6" r="4.6" fill="#2F3169" stroke="#000" stroke-width="2.1"/>
<circle cx="271.4" cy="1227" r="4.6" fill="#EE2D2A" stroke="#000" stroke-width="2.1"/>
<circle cx="262.4" cy="1253.4" r="4.6" fill="#EE2D2A" stroke="#000" stroke-width="2.1"/>
<circle cx="280.4" cy="1257" r="4.6" fill="#EE2D2A" stroke="#000" stroke-width="2.1"/>
<circle cx="262.4" cy="1264" r="4.6" fill="#EE2D2A" stroke="#000" stroke-width="2.1"/>
<path d="M151.4 1117.4V1105.6H271.4V1117.4" fill="none" stroke="#000" stroke-width="2"/>
<text transform="translate(210.75 1105.6)" font-size="26" text-anchor="middle" fill="#000" letter-spacing="0.7">**</text>
<path d="M151.4 1153.4V1142.4H212V1153.4" fill="none" stroke="#000" stroke-width="2"/>
<text transform="translate(183.4 1143)" font-size="26" text-anchor="middle" fill="#000">*</text>
<text transform="translate(210.8 1062) scale(1 1.03)" font-size="28.5" text-anchor="middle" fill="#000">IL-2</text>
<text transform="translate(39.4 1249.05) rotate(-90)" font-size="28.5" text-anchor="middle" fill="#000">pg/ml</text>
</g>
<g>
<rect x="470" y="1378" width="36" height="23" fill="#C9CACC"/>
<rect x="530" y="1377.6" width="36" height="23.4" fill="#B1B2DA"/>
<rect x="590" y="1381" width="36" height="20" fill="#FCD5D5"/>
<line x1="448.2" y1="1097.85" x2="448.2" y2="1403.85" stroke="#000" stroke-width="2.3"/>
<line x1="434.2" y1="1401" x2="650.4" y2="1401" stroke="#000" stroke-width="2.3"/>
<text transform="translate(428.9 1409) scale(1 1.03)" font-size="29.6" text-anchor="end" fill="#000">0</text>
<line x1="434.2" y1="1340.94" x2="448.2" y2="1340.94" stroke="#000" stroke-width="2.3"/>
<text transform="translate(428.9 1349) scale(1 1.03)" font-size="29.6" text-anchor="end" fill="#000">5</text>
<line x1="434.2" y1="1280.88" x2="448.2" y2="1280.88" stroke="#000" stroke-width="2.3"/>
<text transform="translate(428.9 1289) scale(1 1.03)" font-size="29.6" text-anchor="end" fill="#000">10</text>
<line x1="434.2" y1="1220.82" x2="448.2" y2="1220.82" stroke="#000" stroke-width="2.3"/>
<text transform="translate(428.9 1229) scale(1 1.03)" font-size="29.6" text-anchor="end" fill="#000">15</text>
<line x1="434.2" y1="1160.76" x2="448.2" y2="1160.76" stroke="#000" stroke-width="2.3"/>
<text transform="translate(428.9 1169) scale(1 1.03)" font-size="29.6" text-anchor="end" fill="#000">20</text>
<line x1="434.2" y1="1100.7" x2="448.2" y2="1100.7" stroke="#000" stroke-width="2.3"/>
<text transform="translate(428.9 1109) scale(1 1.03)" font-size="29.6" text-anchor="end" fill="#000">25</text>
<line x1="488" y1="1401" x2="488" y2="1415" stroke="#000" stroke-width="2.3"/>
<text transform="translate(487.1 1444) scale(1 1.03)" font-size="28.5" text-anchor="middle" fill="#000">–</text>
<line x1="548" y1="1401" x2="548" y2="1415" stroke="#000" stroke-width="2.3"/>
<text transform="translate(547.1 1444) scale(1 1.03)" font-size="28.5" text-anchor="middle" fill="#000">3</text>
<line x1="608" y1="1401" x2="608" y2="1415" stroke="#000" stroke-width="2.3"/>
<text transform="translate(607.1 1444) scale(1 1.03)" font-size="28.5" text-anchor="middle" fill="#000">6</text>
<line x1="488" y1="1376.4" x2="488" y2="1378.5" stroke="#000" stroke-width="2"/>
<line x1="477.5" y1="1376.4" x2="498.5" y2="1376.4" stroke="#000" stroke-width="2"/>
<line x1="548" y1="1375" x2="548" y2="1378.1" stroke="#000" stroke-width="2"/>
<line x1="537.5" y1="1375" x2="558.5" y2="1375" stroke="#000" stroke-width="2"/>
<line x1="608" y1="1376.6" x2="608" y2="1381.5" stroke="#000" stroke-width="2"/>
<line x1="597.5" y1="1376.6" x2="618.5" y2="1376.6" stroke="#000" stroke-width="2"/>
<circle cx="472.6" cy="1378.6" r="4.6" fill="#333333" stroke="#000" stroke-width="2.1"/>
<circle cx="483" cy="1375.6" r="4.6" fill="#333333" stroke="#000" stroke-width="2.1"/>
<circle cx="493.2" cy="1378" r="4.6" fill="#333333" stroke="#000" stroke-width="2.1"/>
<circle cx="504" cy="1376.6" r="4.6" fill="#333333" stroke="#000" stroke-width="2.1"/>
<circle cx="532.6" cy="1379.6" r="4.6" fill="#2F3169" stroke="#000" stroke-width="2.1"/>
<circle cx="543" cy="1372" r="4.6" fill="#2F3169" stroke="#000" stroke-width="2.1"/>
<circle cx="553" cy="1378.6" r="4.6" fill="#2F3169" stroke="#000" stroke-width="2.1"/>
<circle cx="563.6" cy="1374.6" r="4.6" fill="#2F3169" stroke="#000" stroke-width="2.1"/>
<circle cx="592.6" cy="1372.6" r="4.6" fill="#EE2D2A" stroke="#000" stroke-width="2.1"/>
<circle cx="592.6" cy="1382.4" r="4.6" fill="#EE2D2A" stroke="#000" stroke-width="2.1"/>
<circle cx="608" cy="1379.6" r="4.6" fill="#EE2D2A" stroke="#000" stroke-width="2.1"/>
<circle cx="623.4" cy="1381" r="4.6" fill="#EE2D2A" stroke="#000" stroke-width="2.1"/>
<text transform="translate(547.7 1062) scale(1 1.03)" font-size="28.5" text-anchor="middle" fill="#000">IL-4</text>
<text transform="translate(382 1249.05) rotate(-90)" font-size="28.5" text-anchor="middle" fill="#000">pg/ml</text>
</g>
<g>
<rect x="804.6" y="1225.6" width="36" height="175.4" fill="#C9CACC"/>
<rect x="864.6" y="1326" width="36" height="75" fill="#B1B2DA"/>
<rect x="924.6" y="1338.4" width="36" height="62.6" fill="#FCD5D5"/>
<line x1="782.8" y1="1097.85" x2="782.8" y2="1403.85" stroke="#000" stroke-width="2.3"/>
<line x1="768.8" y1="1401" x2="985" y2="1401" stroke="#000" stroke-width="2.3"/>
<text transform="translate(763.9 1409) scale(1 1.03)" font-size="28.5" text-anchor="end" fill="#000">0</text>
<line x1="768.8" y1="1325.92" x2="782.8" y2="1325.92" stroke="#000" stroke-width="2.3"/>
<text transform="translate(763.9 1334) scale(1 1.03)" font-size="28.5" text-anchor="end" fill="#000">50</text>
<line x1="768.8" y1="1250.85" x2="782.8" y2="1250.85" stroke="#000" stroke-width="2.3"/>
<text transform="translate(763.9 1259) scale(1 1.03)" font-size="28.5" text-anchor="end" fill="#000">100</text>
<line x1="768.8" y1="1175.78" x2="782.8" y2="1175.78" stroke="#000" stroke-width="2.3"/>
<text transform="translate(763.9 1184) scale(1 1.03)" font-size="28.5" text-anchor="end" fill="#000">150</text>
<line x1="768.8" y1="1100.7" x2="782.8" y2="1100.7" stroke="#000" stroke-width="2.3"/>
<text transform="translate(763.9 1109) scale(1 1.03)" font-size="28.5" text-anchor="end" fill="#000">200</text>
<line x1="822.6" y1="1401" x2="822.6" y2="1415" stroke="#000" stroke-width="2.3"/>
<text transform="translate(821.7 1444) scale(1 1.03)" font-size="28.5" text-anchor="middle" fill="#000">–</text>
<line x1="882.6" y1="1401" x2="882.6" y2="1415" stroke="#000" stroke-width="2.3"/>
<text transform="translate(881.7 1444) scale(1 1.03)" font-size="28.5" text-anchor="middle" fill="#000">3</text>
<line x1="942.6" y1="1401" x2="942.6" y2="1415" stroke="#000" stroke-width="2.3"/>
<text transform="translate(941.7 1444) scale(1 1.03)" font-size="28.5" text-anchor="middle" fill="#000">6</text>
<line x1="822.6" y1="1203.4" x2="822.6" y2="1226.1" stroke="#000" stroke-width="2"/>
<line x1="812.1" y1="1203.4" x2="833.1" y2="1203.4" stroke="#000" stroke-width="2"/>
<line x1="882.6" y1="1316.4" x2="882.6" y2="1326.5" stroke="#000" stroke-width="2"/>
<line x1="872.1" y1="1316.4" x2="893.1" y2="1316.4" stroke="#000" stroke-width="2"/>
<line x1="942.6" y1="1332.6" x2="942.6" y2="1338.9" stroke="#000" stroke-width="2"/>
<line x1="932.1" y1="1332.6" x2="953.1" y2="1332.6" stroke="#000" stroke-width="2"/>
<circle cx="822.4" cy="1192" r="4.6" fill="#333333" stroke="#000" stroke-width="2.1"/>
<circle cx="813.4" cy="1207.6" r="4.6" fill="#333333" stroke="#000" stroke-width="2.1"/>
<circle cx="831.8" cy="1212.6" r="4.6" fill="#333333" stroke="#000" stroke-width="2.1"/>
<circle cx="822.4" cy="1282.4" r="4.6" fill="#333333" stroke="#000" stroke-width="2.1"/>
<circle cx="882.4" cy="1305.2" r="4.6" fill="#2F3169" stroke="#000" stroke-width="2.1"/>
<circle cx="882.4" cy="1319" r="4.6" fill="#2F3169" stroke="#000" stroke-width="2.1"/>
<circle cx="873.4" cy="1335.4" r="4.6" fill="#2F3169" stroke="#000" stroke-width="2.1"/>
<circle cx="891.6" cy="1335.4" r="4.6" fill="#2F3169" stroke="#000" stroke-width="2.1"/>
<circle cx="933.2" cy="1332.4" r="4.6" fill="#EE2D2A" stroke="#000" stroke-width="2.1"/>
<circle cx="951.6" cy="1327" r="4.6" fill="#EE2D2A" stroke="#000" stroke-width="2.1"/>
<circle cx="951.6" cy="1338.6" r="4.6" fill="#EE2D2A" stroke="#000" stroke-width="2.1"/>
<circle cx="933.2" cy="1347.4" r="4.6" fill="#EE2D2A" stroke="#000" stroke-width="2.1"/>
<path d="M822.6 1122V1108.4H942.4V1122" fill="none" stroke="#000" stroke-width="2"/>
<text transform="translate(886.95 1107.6)" font-size="26" text-anchor="middle" fill="#000" letter-spacing="0.7">***</text>
<path d="M822.6 1165.4V1153.4H889.8V1165.4" fill="none" stroke="#000" stroke-width="2"/>
<text transform="translate(856.95 1153.4)" font-size="26" text-anchor="middle" fill="#000" letter-spacing="0.7">***</text>
<text transform="translate(882 1062) scale(1 1.03)" font-size="28.5" text-anchor="middle" fill="#000">IL-10</text>
<text transform="translate(702.4 1249.05) rotate(-90)" font-size="28.5" text-anchor="middle" fill="#000">pg/ml</text>
</g>
<g>
<rect x="1139.1" y="1173.4" width="36" height="227.6" fill="#C9CACC"/>
<rect x="1199.1" y="1193.6" width="36" height="207.4" fill="#B1B2DA"/>
<rect x="1259.1" y="1241.5" width="36" height="159.5" fill="#FCD5D5"/>
<line x1="1117.3" y1="1097.85" x2="1117.3" y2="1403.85" stroke="#000" stroke-width="2.3"/>
<line x1="1103.3" y1="1401" x2="1319.5" y2="1401" stroke="#000" stroke-width="2.3"/>
<text transform="translate(1099.3 1409) scale(1 1.03)" font-size="28.5" text-anchor="end" fill="#000">0</text>
<line x1="1103.3" y1="1340.94" x2="1117.3" y2="1340.94" stroke="#000" stroke-width="2.3"/>
<text transform="translate(1099.3 1349) scale(1 1.03)" font-size="28.5" text-anchor="end" fill="#000">10</text>
<line x1="1103.3" y1="1280.88" x2="1117.3" y2="1280.88" stroke="#000" stroke-width="2.3"/>
<text transform="translate(1099.3 1289) scale(1 1.03)" font-size="28.5" text-anchor="end" fill="#000">20</text>
<line x1="1103.3" y1="1220.82" x2="1117.3" y2="1220.82" stroke="#000" stroke-width="2.3"/>
<text transform="translate(1099.3 1229) scale(1 1.03)" font-size="28.5" text-anchor="end" fill="#000">30</text>
<line x1="1103.3" y1="1160.76" x2="1117.3" y2="1160.76" stroke="#000" stroke-width="2.3"/>
<text transform="translate(1099.3 1169) scale(1 1.03)" font-size="28.5" text-anchor="end" fill="#000">40</text>
<line x1="1103.3" y1="1100.7" x2="1117.3" y2="1100.7" stroke="#000" stroke-width="2.3"/>
<text transform="translate(1099.3 1109) scale(1 1.03)" font-size="28.5" text-anchor="end" fill="#000">50</text>
<line x1="1157.1" y1="1401" x2="1157.1" y2="1415" stroke="#000" stroke-width="2.3"/>
<text transform="translate(1156.2 1444) scale(1 1.03)" font-size="28.5" text-anchor="middle" fill="#000">–</text>
<line x1="1217.1" y1="1401" x2="1217.1" y2="1415" stroke="#000" stroke-width="2.3"/>
<text transform="translate(1216.2 1444) scale(1 1.03)" font-size="28.5" text-anchor="middle" fill="#000">3</text>
<line x1="1277.1" y1="1401" x2="1277.1" y2="1415" stroke="#000" stroke-width="2.3"/>
<text transform="translate(1276.2 1444) scale(1 1.03)" font-size="28.5" text-anchor="middle" fill="#000">6</text>
<line x1="1157.1" y1="1159.2" x2="1157.1" y2="1173.9" stroke="#000" stroke-width="2"/>
<line x1="1146.6" y1="1159.2" x2="1167.6" y2="1159.2" stroke="#000" stroke-width="2"/>
<line x1="1217.1" y1="1182" x2="1217.1" y2="1194.1" stroke="#000" stroke-width="2"/>
<line x1="1206.6" y1="1182" x2="1227.6" y2="1182" stroke="#000" stroke-width="2"/>
<line x1="1277.1" y1="1230.2" x2="1277.1" y2="1242" stroke="#000" stroke-width="2"/>
<line x1="1266.6" y1="1230.2" x2="1287.6" y2="1230.2" stroke="#000" stroke-width="2"/>
<circle cx="1157" cy="1145.2" r="4.6" fill="#333333" stroke="#000" stroke-width="2.1"/>
<circle cx="1157" cy="1163.6" r="4.6" fill="#333333" stroke="#000" stroke-width="2.1"/>
<circle cx="1157" cy="1175.6" r="4.6" fill="#333333" stroke="#000" stroke-width="2.1"/>
<circle cx="1157" cy="1202.2" r="4.6" fill="#333333" stroke="#000" stroke-width="2.1"/>
<circle cx="1208" cy="1175.4" r="4.6" fill="#2F3169" stroke="#000" stroke-width="2.1"/>
<circle cx="1226.2" cy="1175.4" r="4.6" fill="#2F3169" stroke="#000" stroke-width="2.1"/>
<circle cx="1226.2" cy="1204.4" r="4.6" fill="#2F3169" stroke="#000" stroke-width="2.1"/>
<circle cx="1208" cy="1212" r="4.6" fill="#2F3169" stroke="#000" stroke-width="2.1"/>
<circle cx="1277" cy="1212" r="4.6" fill="#EE2D2A" stroke="#000" stroke-width="2.1"/>
<circle cx="1277" cy="1246.4" r="4.6" fill="#EE2D2A" stroke="#000" stroke-width="2.1"/>
<circle cx="1292.2" cy="1246.4" r="4.6" fill="#EE2D2A" stroke="#000" stroke-width="2.1"/>
<circle cx="1261.4" cy="1254" r="4.6" fill="#EE2D2A" stroke="#000" stroke-width="2.1"/>
<path d="M1157 1119.6V1107.4H1277V1119.6" fill="none" stroke="#000" stroke-width="2"/>
<text transform="translate(1216.35 1107.6)" font-size="26" text-anchor="middle" fill="#000" letter-spacing="0.7">**</text>
<text transform="translate(1216 1062) scale(1 1.03)" font-size="28.5" text-anchor="middle" fill="#000">IL-12 (p40)</text>
<text transform="translate(1049.4 1249.05) rotate(-90)" font-size="28.5" text-anchor="middle" fill="#000">pg/ml</text>
</g>
<text transform="translate(586 489)" font-size="28.5" text-anchor="start" fill="#000">Days post infection</text>
<text transform="translate(586 988)" font-size="28.5" text-anchor="start" fill="#000">Days post infection</text>
<text transform="translate(586 1485)" font-size="28.5" text-anchor="start" fill="#000">Days post infection</text>
<text transform="translate(-0.4 39.7) scale(1 1.07)" font-size="41.5" text-anchor="start" fill="#231F20">a</text>
<text transform="translate(1350.9 38.5)" font-size="45" text-anchor="start" fill="#231F20">b</text>
<g>
<rect x="1627.1" y="107.1" width="84.3" height="83.75" fill="#B1B2DA"/>
<rect x="1710.4" y="107.1" width="90.5" height="83.75" fill="#EE2E2B"/>
<rect x="1627.1" y="190.6" width="84.3" height="83.15" fill="#FDE4E3"/>
<rect x="1710.4" y="190.6" width="90.5" height="83.15" fill="#FBCDCC"/>
<rect x="1627.1" y="273.5" width="84.3" height="83.15" fill="#F7B4B6"/>
<rect x="1710.4" y="273.5" width="90.5" height="83.15" fill="#F1686C"/>
<rect x="1627.1" y="356.4" width="84.3" height="83.15" fill="#F7ADB0"/>
<rect x="1710.4" y="356.4" width="90.5" height="83.15" fill="#F26B70"/>
<rect x="1627.1" y="439.3" width="84.3" height="83.15" fill="#FDE4E3"/>
<rect x="1710.4" y="439.3" width="90.5" height="83.15" fill="#F9C8C8"/>
<rect x="1627.1" y="522.2" width="84.3" height="83.15" fill="#F8F7FB"/>
<rect x="1710.4" y="522.2" width="90.5" height="83.15" fill="#F8B9BB"/>
<rect x="1627.1" y="605.1" width="84.3" height="83.15" fill="#F9C6C7"/>
<rect x="1710.4" y="605.1" width="90.5" height="83.15" fill="#C9C9E4"/>
<rect x="1627.1" y="688" width="84.3" height="83.15" fill="#FBD3D3"/>
<rect x="1710.4" y="688" width="90.5" height="83.15" fill="#FFFFFF"/>
<rect x="1627.1" y="770.9" width="84.3" height="83.15" fill="#D4D3E9"/>
<rect x="1710.4" y="770.9" width="90.5" height="83.15" fill="#F9B6B9"/>
<rect x="1627.1" y="853.8" width="84.3" height="83.15" fill="#B0B1D8"/>
<rect x="1710.4" y="853.8" width="90.5" height="83.15" fill="#A5A8D4"/>
<rect x="1627.1" y="936.7" width="84.3" height="83.15" fill="#8C91C8"/>
<rect x="1710.4" y="936.7" width="90.5" height="83.15" fill="#C3C4E1"/>
<rect x="1627.1" y="1019.6" width="84.3" height="83.15" fill="#AEB0D7"/>
<rect x="1710.4" y="1019.6" width="90.5" height="83.15" fill="#8E94C9"/>
<rect x="1627.1" y="1102.5" width="84.3" height="83.15" fill="#FEF5F4"/>
<rect x="1710.4" y="1102.5" width="90.5" height="83.15" fill="#CFD1E8"/>
<rect x="1627.1" y="1185.4" width="84.3" height="83.15" fill="#3357A7"/>
<rect x="1710.4" y="1185.4" width="90.5" height="83.15" fill="#2656A9"/>
<rect x="1627.1" y="1268.3" width="84.3" height="89.4" fill="#DFE0F1"/>
<rect x="1710.4" y="1268.3" width="90.5" height="89.4" fill="#8D93C8"/>
<rect x="1543.9" y="107.1" width="257" height="1250.6" fill="none" stroke="#000" stroke-width="2.1"/>
<line x1="1530.3" y1="151.8" x2="1543.9" y2="151.8" stroke="#000" stroke-width="2.1"/>
<text transform="translate(1519.9 163.5) scale(1 1.03)" font-size="32.5" text-anchor="end" fill="#000">G-CSF</text>
<line x1="1530.3" y1="234.73" x2="1543.9" y2="234.73" stroke="#000" stroke-width="2.1"/>
<text transform="translate(1519.9 246.43) scale(1 1.03)" font-size="32.5" text-anchor="end" fill="#000">KC</text>
<line x1="1530.3" y1="317.66" x2="1543.9" y2="317.66" stroke="#000" stroke-width="2.1"/>
<text transform="translate(1519.9 329.36) scale(1 1.03)" font-size="32.5" text-anchor="end" fill="#000">IP-10</text>
<line x1="1530.3" y1="400.59" x2="1543.9" y2="400.59" stroke="#000" stroke-width="2.1"/>
<text transform="translate(1519.9 412.29) scale(1 1.03)" font-size="32.5" text-anchor="end" fill="#000">MCP-1</text>
<line x1="1530.3" y1="483.52" x2="1543.9" y2="483.52" stroke="#000" stroke-width="2.1"/>
<text transform="translate(1519.9 495.22) scale(1 1.03)" font-size="32.5" text-anchor="end" fill="#000">MIP-1α</text>
<line x1="1530.3" y1="566.45" x2="1543.9" y2="566.45" stroke="#000" stroke-width="2.1"/>
<text transform="translate(1519.9 578.15) scale(1 1.03)" font-size="32.5" text-anchor="end" fill="#000">MIP-1β</text>
<line x1="1530.3" y1="649.38" x2="1543.9" y2="649.38" stroke="#000" stroke-width="2.1"/>
<text transform="translate(1519.9 661.08) scale(1 1.03)" font-size="32.5" text-anchor="end" fill="#000">MIP-2</text>
<line x1="1530.3" y1="732.31" x2="1543.9" y2="732.31" stroke="#000" stroke-width="2.1"/>
<text transform="translate(1519.9 744.01) scale(1 1.03)" font-size="32.5" text-anchor="end" fill="#000">TNF-α</text>
<line x1="1530.3" y1="815.24" x2="1543.9" y2="815.24" stroke="#000" stroke-width="2.1"/>
<text transform="translate(1519.9 826.94) scale(1 1.03)" font-size="32.5" text-anchor="end" fill="#000">IL-6</text>
<line x1="1530.3" y1="898.17" x2="1543.9" y2="898.17" stroke="#000" stroke-width="2.1"/>
<text transform="translate(1519.9 909.87) scale(1 1.03)" font-size="32.5" text-anchor="end" fill="#000">IL-1α</text>
<line x1="1530.3" y1="981.1" x2="1543.9" y2="981.1" stroke="#000" stroke-width="2.1"/>
<text transform="translate(1519.9 992.8) scale(1 1.03)" font-size="32.5" text-anchor="end" fill="#000">IL-1β</text>
<line x1="1530.3" y1="1064.03" x2="1543.9" y2="1064.03" stroke="#000" stroke-width="2.1"/>
<text transform="translate(1519.9 1075.73) scale(1 1.03)" font-size="32.5" text-anchor="end" fill="#000">IL-2</text>
<line x1="1530.3" y1="1146.96" x2="1543.9" y2="1146.96" stroke="#000" stroke-width="2.1"/>
<text transform="translate(1519.9 1158.66) scale(1 1.03)" font-size="32.5" text-anchor="end" fill="#000">IL-4</text>
<line x1="1530.3" y1="1229.89" x2="1543.9" y2="1229.89" stroke="#000" stroke-width="2.1"/>
<text transform="translate(1519.9 1241.59) scale(1 1.03)" font-size="32.5" text-anchor="end" fill="#000">IL-10</text>
<line x1="1530.3" y1="1312.82" x2="1543.9" y2="1312.82" stroke="#000" stroke-width="2.1"/>
<text transform="translate(1519.9 1324.52) scale(1 1.03)" font-size="32.5" text-anchor="end" fill="#000">IL-12 (p40)</text>
<line x1="1588.6" y1="1357.7" x2="1588.6" y2="1371.1" stroke="#000" stroke-width="2.1"/>
<text transform="translate(1588.9 1404.5) scale(1 1.03)" font-size="32.5" text-anchor="middle" fill="#000">–</text>
<line x1="1672.2" y1="1357.7" x2="1672.2" y2="1371.1" stroke="#000" stroke-width="2.1"/>
<text transform="translate(1672.5 1404.5) scale(1 1.03)" font-size="32.5" text-anchor="middle" fill="#000">3</text>
<line x1="1755.4" y1="1357.7" x2="1755.4" y2="1371.1" stroke="#000" stroke-width="2.1"/>
<text transform="translate(1755.7 1404.5) scale(1 1.03)" font-size="32.5" text-anchor="middle" fill="#000">6</text>
<text transform="translate(1534.2 1446.2)" font-size="32.5" text-anchor="start" fill="#000">Days post infection</text>
</g>
<defs><linearGradient id="cb" x1="0" y1="0" x2="0" y2="1">
<stop offset="0.0000" stop-color="#EE2E2B"/>
<stop offset="0.0967" stop-color="#EF3E3F"/>
<stop offset="0.1493" stop-color="#F04A4C"/>
<stop offset="0.1945" stop-color="#F1585B"/>
<stop offset="0.2396" stop-color="#F2666A"/>
<stop offset="0.2850" stop-color="#F3767A"/>
<stop offset="0.3257" stop-color="#F48488"/>
<stop offset="0.3603" stop-color="#F58D90"/>
<stop offset="0.4194" stop-color="#F7A3A5"/>
<stop offset="0.4647" stop-color="#F8B5B7"/>
<stop offset="0.5099" stop-color="#FAC8C9"/>
<stop offset="0.5550" stop-color="#FCDADA"/>
<stop offset="0.5888" stop-color="#FDE9E8"/>
<stop offset="0.6114" stop-color="#FEF5F4"/>
<stop offset="0.6232" stop-color="#FFFFFF"/>
<stop offset="0.6450" stop-color="#EEEFF7"/>
<stop offset="0.6714" stop-color="#DFE0F1"/>
<stop offset="0.6978" stop-color="#D0D1E9"/>
<stop offset="0.7242" stop-color="#C0C2E0"/>
<stop offset="0.7506" stop-color="#ABAED7"/>
<stop offset="0.7770" stop-color="#9A9FCF"/>
<stop offset="0.8034" stop-color="#8B91C8"/>
<stop offset="0.8298" stop-color="#7B83C0"/>
<stop offset="0.8562" stop-color="#6B75B8"/>
<stop offset="0.8864" stop-color="#5A68B0"/>
<stop offset="0.9090" stop-color="#4F62AD"/>
<stop offset="0.9354" stop-color="#4660AB"/>
<stop offset="0.9618" stop-color="#3A5BA9"/>
<stop offset="1.0000" stop-color="#2755A8"/>
</linearGradient></defs>
<g>
<rect x="1845.9" y="111.3" width="34.3" height="1242.6" fill="url(#cb)" stroke="#000" stroke-width="2.1"/>
<line x1="1845.9" y1="231.5" x2="1854.5" y2="231.5" stroke="#000" stroke-width="2.1"/>
<line x1="1871.6" y1="231.5" x2="1880.2" y2="231.5" stroke="#000" stroke-width="2.1"/>
<text transform="translate(1895.2 243.9) scale(1 1.03)" font-size="32.5" text-anchor="start" fill="#000">2</text>
<line x1="1845.9" y1="559" x2="1854.5" y2="559" stroke="#000" stroke-width="2.1"/>
<line x1="1871.6" y1="559" x2="1880.2" y2="559" stroke="#000" stroke-width="2.1"/>
<text transform="translate(1895.2 571.4) scale(1 1.03)" font-size="32.5" text-anchor="start" fill="#000">1</text>
<line x1="1845.9" y1="885.7" x2="1854.5" y2="885.7" stroke="#000" stroke-width="2.1"/>
<line x1="1871.6" y1="885.7" x2="1880.2" y2="885.7" stroke="#000" stroke-width="2.1"/>
<text transform="translate(1895.2 898.1) scale(1 1.03)" font-size="32.5" text-anchor="start" fill="#000">0</text>
<line x1="1845.9" y1="1212.7" x2="1854.5" y2="1212.7" stroke="#000" stroke-width="2.1"/>
<line x1="1871.6" y1="1212.7" x2="1880.2" y2="1212.7" stroke="#000" stroke-width="2.1"/>
<text transform="translate(1885.6 1225.1) scale(1 1.03)" font-size="32.5" text-anchor="start" fill="#000">-1</text>
<text transform="translate(1946.4 727.4) rotate(90)" font-size="32.63" text-anchor="middle" fill="#000">log<tspan font-size="20.15" dy="10">2</tspan><tspan dy="-10">[fold change versus mock]</tspan></text>
</g>
</svg>
</body>
</html>
